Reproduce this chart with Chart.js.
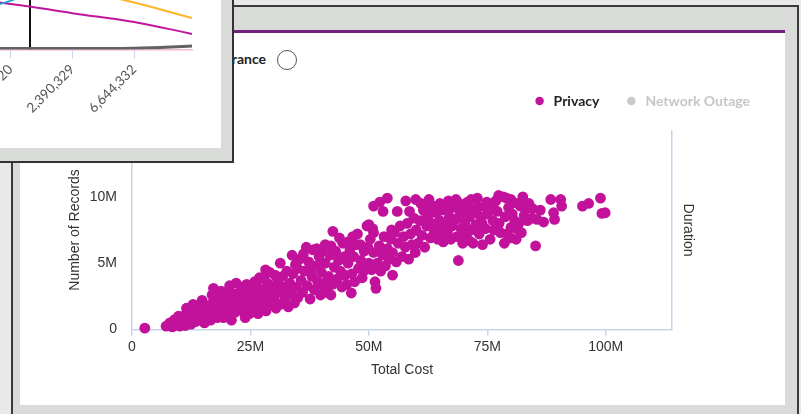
<!DOCTYPE html>
<html>
<head>
<meta charset="utf-8">
<script src="https://cdn.jsdelivr.net/npm/chart.js@4.4.1/dist/chart.umd.min.js"></script>
<style>
  html, body { margin: 0; padding: 0; }
  body { width: 801px; height: 414px; overflow: hidden; position: relative; background: #e9e9e9; }
  #win { position: absolute; left: 11px; top: 5px; width: 788px; height: 430px; box-sizing: border-box;
         background: #d9dbd9; border: 2px solid #3a3a3a; }
  #content { position: absolute; left: 7px; top: 23px; width: 765px; height: 375px; box-sizing: border-box;
             background: #fff; border-top: 3px solid #70207f; }
  #toggleLabel { position: absolute; right: 519px; top: 17px; line-height: 20px;
                 font: 700 14px Lato, sans-serif; color: #222; white-space: nowrap; }
  #radio { position: absolute; left: 257px; top: 17px; width: 20px; height: 20px; box-sizing: border-box;
           border: 1.5px solid #555; border-radius: 50%; }
  #scatter { position: absolute; left: 0; top: 0; }
  #inset { position: absolute; left: 0; top: 0; width: 234px; height: 163px; box-sizing: border-box; z-index: 5;
           background: #d9dbd9; border-right: 2px solid #333; border-bottom: 2px solid #333; overflow: hidden; }
  #insetBody { position: absolute; left: 0; top: 0; width: 221px; height: 148px; background: #fff; overflow: hidden; }
  #lines { position: absolute; left: -174px; top: -110px; }
</style>
</head>
<body>
<div id="win">
  <div id="content">
    <span id="toggleLabel">Insurance</span><span id="radio"></span>
    <canvas id="scatter" width="755" height="372" style="width:755px;height:372px"></canvas>
  </div>
</div>
<div id="inset"><div id="insetBody">
  <canvas id="lines" width="396" height="258" style="width:396px;height:258px"></canvas>
</div></div>

<script>
/* ---------- Données : nuage Privacy (coût total M, nombre d'enregistrements M) ---------- */
const privacy = [
  [2.7,0.1],
  [7.2,0.25],[8,0.5],[8.5,0.2],[9,0.75],[9.4,0.35],[9.8,1.0],[10.1,0.25],
  [10.5,0.6],[11,1.05],[11.3,0.3],[11.5,1.6],[11.8,0.7],[12.1,1.2],[12.5,0.4],[12.8,0.9],[12.9,1.9],[13.1,1.4],
  [13.5,0.6],[13.8,1.05],[14.2,1.6],[14.5,0.8],[14.8,2.2],[15,1.25],[15.3,0.5],[15.6,1.8],[16,1.0],
  [16.3,1.45],[16.6,0.7],[16.9,2.6],[17,2.0],[17.2,3.1],[17.4,1.2],[17.8,1.7],[18,0.9],[18.3,2.3],[18.6,1.4],[18.8,2.9],[19,1.95],[19.3,0.9],[19.6,2.5],[20,1.6],
  [20.3,2.1],[20.5,1.1],[20.6,3.3],[20.8,2.8],[21,0.7],[21.2,1.7],[21.5,2.35],[21.8,1.3],[22,3.5],[22.2,2.0],[22.5,2.75],[22.8,1.6],[23.3,3.2],[23.2,2.2],[23.6,1.3],[23.9,0.9],[24,2.6],[24.2,3.4],[24.3,1.9],[24.7,3.0],[25,2.3],[24.8,1.2],
  [25.4,1.5],[25.7,2.8],[25.9,3.6],[26,2.0],[26.3,3.4],[26.6,1.2],[26.9,3.9],[27,2.5],[27.3,1.8],[27.6,3.0],[27.8,3.9],[28,2.2],[28.2,4.5],[28.3,1.4],[28.6,3.5],[29,2.6],[29.1,4.3],[29.3,1.9],[29.6,3.1],[30,2.3],[30.2,4.1],
  [30.4,1.6],[30.7,3.6],[31,2.8],[31.3,5.0],[31.4,1.9],[31.6,3.1],[31.8,4.0],[32,3.2],[32.3,2.3],[32.7,4.4],[32.9,2.9],[33,1.7],[33.3,3.5],[33.8,5.6],[33.6,2.7],[34,4.2],[34.3,2.0],[34.5,4.9],[34.7,3.2],[35,4.6],[35,2.4],
  [35.4,5.3],[35.7,3.7],[36,2.8],[36.2,5.7],[36.4,4.4],[36.8,6.2],[37,3.3],[37.3,5.1],[37.6,2.3],[37.8,4.5],[38,4.0],[38.2,6.0],[38.5,3.0],[38.9,4.8],[39,6.1],[39.2,3.6],[39.5,5.5],[39.8,2.6],[40,4.3],
  [40.2,5.9],[40.4,3.3],[40.8,6.4],[40.8,5.0],[41,3.6],[41.2,2.8],[41.5,4.0],[41.8,5.6],[42,2.6],[42,6.3],[42.4,7.4],[42.3,3.4],[42.7,4.7],[43,5.9],[43.3,3.8],[43.6,5.2],[43.8,6.9],[44,4.4],[44.5,6.5],[44.3,3.2],[44.8,5.5],[45,4.1],
  [45.3,3.4],[45.6,5.0],[45.6,6.6],[46,6.0],[46.3,2.75],[46.4,4.2],[46.6,7.0],[46.8,5.5],[47,3.6],[47.4,6.4],[47.6,7.2],[47.8,4.6],[48.2,6.4],[48.3,5.2],[48.6,3.9],[49,5.9],[49.3,4.5],[49.6,7.8],[49.8,6.2],[50,5.0],
  [50,7.9],[50.3,6.8],[50.6,4.5],[50.8,7.6],[51,5.8],[51,9.3],[51.3,3.6],[51.5,3.1],[51,7.3],[51.8,5.0],[52.2,6.3],[52.3,9.6],[53,8.9],[52.5,4.4],[52.9,5.6],[53.2,7.0],[53.5,4.8],[53.9,9.9],[53.9,6.1],[54.3,5.3],[54.6,6.8],[54.8,7.5],[55,4.1],[55,5.8],
  [55.4,7.3],[56,8.9],[55.8,5.1],[56.2,6.5],[56.6,7.8],[57,5.5],[57.3,7.0],[57.8,9.7],[57.7,6.2],[58.1,8.0],[58.4,5.3],[58.6,8.9],[58.8,7.2],[59.1,6.4],[59.5,8.4],[59.9,9.8],[59.8,5.8],[60,7.5],
  [60.4,6.5],[60.8,8.2],[61,9.5],[61.2,7.1],[61.5,9.0],[61.8,6.2],[62,8.3],[62.2,7.8],[62.5,8.6],[62.7,9.8],[62.7,9.2],[63,6.9],[63.4,8.0],[63.6,9.3],[63.8,7.3],[64,7.8],[64.2,8.8],[65,9.5],[64.5,6.8],[65,8.2],[65,7.5],
  [65.4,9.0],[65.7,6.6],[66,8.0],[66.2,7.0],[66.3,9.4],[66.6,7.3],[66.8,9.7],[67,9.1],[67,8.5],[67.3,6.8],[67.6,7.8],[68,9.2],[68.3,8.3],[68.4,9.8],[68.6,7.0],[68.9,5.2],[69.1,9.5],[69.2,8.6],[69.5,7.6],[69.8,6.5],[70,9.0],
  [70.3,8.0],[70.6,7.0],[70.8,9.6],[71,9.3],[71.2,6.7],[71.3,8.5],[71.6,9.8],[71.6,7.5],[72,6.5],[72.3,8.8],[72.6,7.9],[72.9,9.9],[73,9.2],[73.3,7.2],[73.6,8.5],[73.9,8.0],[74,6.4],[74.4,9.3],[74.6,7.6],[74.9,9.6],[75,8.7],
  [75.6,6.8],[75.8,9.3],[76.2,8.2],[76.4,7.5],[76.6,9.0],[76.8,9.7],[77.1,8.9],[77.4,10.1],[77.5,8.0],[77.8,7.3],[78.4,10.0],[78.6,6.5],[78.8,8.5],[79.1,9.9],[79.2,7.2],[79.5,9.2],[79.9,6.9],[80,9.8],[80,7.7],[80.3,8.7],
  [80.8,8.2],[81.1,7.6],[81.1,6.8],[81.4,9.5],[81.7,8.0],[82.2,7.3],[82.5,10.0],[82,9.3],[82.8,8.6],[83.2,9.1],[83.5,8.2],[83.8,9.5],[84.6,9.1],[84.5,8.4],[85.2,6.3],
  [85.5,8.3],[86.2,9.0],[86.9,8.1],[88.4,9.8],[89,8.8],[89.2,8.3],
  [90.5,9.8],[90.7,9.3],[95.1,9.3],[96.4,9.5],[98.9,9.9],[99.2,8.75],[99.9,8.8]
];
const networkOutage = [];
const legendTextColors = ["#222", "#c6c6c6"];
const costTicks = [0, 25e6, 50e6, 75e6, 100e6];
const recordTicks = [0, 5e6, 10e6, 15e6];

/* ---------- Données : graphique linéaire en incrustation ---------- */
const insetTicks = [309252, 859720, 2390329, 6644332];
const insetX = [110000, 309252, 859720, 2390329, 6644332, 17300000];
const cyanVals = [18, 25, 32.5, 55, 70, 78];
const magentaVals = [37, 34, 30.5, 24.3, 18.4, 10.4];
const orangeVals = [58, 55, 50, 41, 31.4, 21.1];
const grayVals = [0.6, 0.6, 0.7, 0.7, 0.8, 2.3];
const markerX = 1189000;

const axisBlue = "#c6d6ea";
const magenta = "#c2129c";

function fmtM(v) {
    return v === 0 ? "0" : (v / 1e6) + "M";
}

/* ---------- Nuage de points principal ---------- */
const legendGap = {
    id: "legendGap",
    beforeInit(chart) {
        const fit = chart.legend.fit;
        chart.legend.fit = function () { fit.call(this); this.height += 12.5; };
    }
};

Chart.defaults.font.family = "'Liberation Sans', Arial, sans-serif";
Chart.defaults.font.size = 14;
Chart.defaults.color = "#333";

new Chart(document.getElementById("scatter"), {
    type: "scatter",
    data: {
        datasets: [{
            label: "Privacy",
            data: privacy.map(([c, r]) => ({ x: c * 1e6, y: r * 1e6 })),
            backgroundColor: magenta,
            borderWidth: 0,
            pointRadius: 5.4,
            pointHoverRadius: 5.4,
            clip: false
        }, {
            label: "Network Outage",
            data: networkOutage,
            backgroundColor: "#c9c9c9",
            borderWidth: 0,
            pointRadius: 5
        }]
    },
    options: {
        responsive: false,
        animation: false,
        devicePixelRatio: 1,
        events: [],
        layout: { padding: { left: 0, right: 0, top: 36, bottom: 0 } },
        plugins: {
            tooltip: { enabled: false },
            legend: {
                align: "end",
                labels: {
                    usePointStyle: true,
                    boxWidth: 14,
                    boxHeight: 6,
                    padding: 25,
                    font: { family: "Lato, sans-serif", size: 14, weight: "bold" },
                    generateLabels(chart) {
                        const items = Chart.defaults.plugins.legend.labels.generateLabels(chart);
                        items.forEach((it, i) => { it.fontColor = legendTextColors[i]; });
                        return items;
                    }
                }
            }
        },
        scales: {
            x: {
                type: "linear",
                min: 0,
                max: 114e6,
                afterBuildTicks: s => { s.ticks = costTicks.map(v => ({ value: v })); },
                afterFit: s => { s.height = 75.5; },
                ticks: { padding: 3, callback: fmtM },
                grid: { drawOnChartArea: false, drawTicks: true, tickLength: 6, color: axisBlue, lineWidth: 1.5 },
                border: { color: axisBlue, width: 1.5 },
                title: { display: true, text: "Total Cost", padding: { top: 0, bottom: 26.6 } }
            },
            y: {
                type: "linear",
                position: "left",
                min: 0,
                max: 15e6,
                afterBuildTicks: s => { s.ticks = recordTicks.map(v => ({ value: v })); },
                afterFit: s => { s.width = 112; },
                ticks: { padding: 15, callback: fmtM },
                grid: { drawOnChartArea: false, drawTicks: false },
                border: { color: axisBlue, width: 1.5 },
                title: { display: true, text: "Number of Records", padding: { top: 46.6, bottom: 0 } }
            },
            y2: {
                type: "linear",
                position: "right",
                afterFit: s => { s.width = 103; },
                ticks: { display: false },
                grid: { drawOnChartArea: false, drawTicks: false },
                border: { color: axisBlue, width: 1.5 },
                title: { display: true, text: "Duration", padding: { top: 78.6, bottom: 0 } }
            }
        }
    },
    plugins: [legendGap]
});

/* ---------- Graphique linéaire en incrustation ---------- */
function series(vals) {
    return vals.map((v, i) => ({ x: insetX[i], y: v }));
}

new Chart(document.getElementById("lines"), {
    type: "line",
    data: {
        datasets: [
            { data: series(cyanVals), borderColor: "#1ea5d8", borderWidth: 2, pointRadius: 0, tension: 0.4 },
            { data: series(orangeVals), borderColor: "#fbb62a", borderWidth: 2, pointRadius: 0, tension: 0.4 },
            { data: series(magentaVals), borderColor: "#c0169e", borderWidth: 2, pointRadius: 0, tension: 0.4 },
            { data: series(grayVals), borderColor: "#626262", borderWidth: 3, pointRadius: 0, tension: 0.4 },
            { data: [{ x: markerX, y: 0 }, { x: markerX, y: 100 }], borderColor: "#111", borderWidth: 2, pointRadius: 0 }
        ]
    },
    options: {
        responsive: false,
        animation: false,
        devicePixelRatio: 1,
        events: [],
        layout: { padding: { left: 60, right: 30, top: 10, bottom: 0 } },
        plugins: { legend: { display: false }, tooltip: { enabled: false } },
        scales: {
            x: {
                type: "logarithmic",
                min: 110000,
                max: 17300000,
                afterBuildTicks: s => { s.ticks = insetTicks.map(v => ({ value: v })); },
                afterFit: s => { s.height = 98.5; },
                ticks: {
                    autoSkip: false,
                    minRotation: 45,
                    maxRotation: 45,
                    color: "#555",
                    font: { family: "Lato, sans-serif", size: 13.5 },
                    callback: v => Number(v).toLocaleString("en-US")
                },
                grid: { drawOnChartArea: false, tickLength: 9, color: axisBlue },
                border: { color: "#efb9cf", width: 1.5 }
            },
            y: { display: false, min: 0, max: 100 }
        }
    }
});
</script>
</body>
</html>
